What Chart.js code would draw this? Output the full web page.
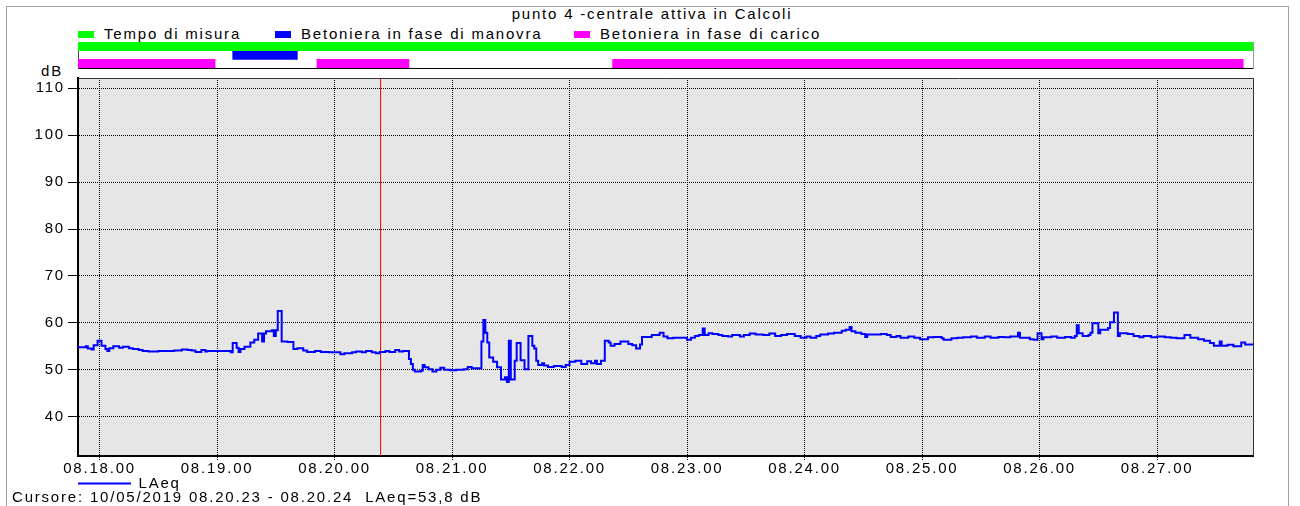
<!DOCTYPE html>
<html lang="it">
<head>
<meta charset="utf-8">
<title>punto 4 -centrale attiva in Calcoli</title>
<script src="https://cdn.jsdelivr.net/npm/chart.js@4.4.1/dist/chart.umd.min.js"></script>
<style>
  html, body { margin: 0; padding: 0; background: #fff; }
  body {
    width: 1300px; height: 506px; position: relative; overflow: hidden;
    font-family: 'Liberation Sans', Arial, sans-serif; font-size: 15px; color: #000;
    letter-spacing: 1.8px;
  }
  .abs { position: absolute; }
  #cornice { left: 6px; top: 6px; width: 1281px; height: 520px; border: 1px solid #a0a0a0; }
  #titolo { left: 0; top: 5px; width: 1304px; text-align: center; line-height: 18px; }
  .voce { top: 25px; line-height: 18px; white-space: nowrap; }
  .voce i { display: inline-block; width: 16px; height: 7px; margin-right: 10px; vertical-align: 1px; }
  #udm { left: 41px; top: 62px; line-height: 18px; }
  #cursore { left: 12px; top: 488px; line-height: 18px; }
  #boxGrafico { left: 0; top: 0; width: 1300px; height: 506px; }
  #boxFasi { left: 0; top: 0; width: 1300px; height: 70px; }
</style>
</head>
<body>
<div id="cornice" class="abs"></div>
<div id="titolo" class="abs">punto 4 -centrale attiva in Calcoli</div>
<div class="abs voce" style="left:78px"><i style="background:#00ff00"></i>Tempo di misura</div>
<div class="abs voce" style="left:275px"><i style="background:#0000ff"></i>Betoniera in fase di manovra</div>
<div class="abs voce" style="left:574px"><i style="background:#ff00ff"></i>Betoniera in fase di carico</div>
<div id="udm" class="abs">dB</div>
<div id="boxGrafico" class="abs"><canvas id="grafico"></canvas></div>
<div id="boxFasi" class="abs"><canvas id="fasi"></canvas></div>
<div id="cursore" class="abs">Cursore: 10/05/2019 08.20.23 - 08.20.24&nbsp;&nbsp;LAeq=53,8 dB</div>

<script>
// tempi in secondi dalle 08.00.00
const inizio = 1069;
const fine = 1669;
const tickTempi = [1080, 1140, 1200, 1260, 1320, 1380, 1440, 1500, 1560, 1620];
const tickDb = [40, 50, 60, 70, 80, 90, 100, 110];
const dbMin = 31.6;
const dbMax = 112.2;
const cursoreSec = 1223.5;

// fasi (barre in alto)
const fasiEtichette = ['Tempo di misura', 'Betoniera in fase di manovra', 'Betoniera in fase di carico'];
const tempoMisura = [[1069, 1669]];
const faseManovra = [[1148, 1181]];
const faseCarico = [[1069, 1139], [1191, 1238], [1342, 1664]];

// LAeq: istante di cambio (s) e livello (dB), a gradini
const laeqTempi = [
  1069, 1073, 1074, 1076, 1077, 1079, 1081, 1083, 1084, 1085, 1087, 1090, 1092, 1095, 1097,
  1100, 1102, 1105, 1110, 1118, 1122, 1125, 1127, 1129, 1132, 1134, 1135, 1147, 1148, 1150,
  1151, 1152, 1154, 1157, 1159, 1161, 1163, 1164, 1165, 1168, 1169, 1170, 1171, 1173, 1176,
  1179, 1181, 1184, 1186, 1190, 1193, 1197, 1203, 1205, 1209, 1211, 1214, 1216, 1219, 1221,
  1223, 1226, 1228, 1231, 1233, 1235, 1238, 1239, 1240, 1241, 1244, 1245, 1246, 1248, 1250,
  1252, 1254, 1256, 1259, 1262, 1266, 1268, 1270, 1275, 1276, 1277, 1278, 1279, 1281, 1283,
  1285, 1287, 1288, 1289, 1290, 1292, 1293, 1295, 1297, 1299, 1301, 1302, 1303, 1304, 1306,
  1307, 1309, 1312, 1316, 1318, 1320, 1323, 1326, 1329, 1331, 1333, 1334, 1336, 1338, 1340,
  1341, 1343, 1346, 1350, 1352, 1354, 1356, 1357, 1362, 1366, 1368, 1370, 1373, 1380, 1382,
  1384, 1386, 1388, 1389, 1391, 1393, 1396, 1398, 1401, 1403, 1407, 1409, 1412, 1415, 1419,
  1422, 1425, 1428, 1431, 1435, 1438, 1441, 1443, 1446, 1448, 1452, 1455, 1459, 1461, 1463,
  1464, 1466, 1469, 1471, 1472, 1479, 1482, 1484, 1487, 1489, 1493, 1496, 1499, 1503, 1506,
  1510, 1511, 1515, 1518, 1521, 1525, 1528, 1532, 1535, 1539, 1542, 1545, 1549, 1550, 1555,
  1557, 1559, 1561, 1562, 1566, 1569, 1573, 1576, 1578, 1579, 1580, 1582, 1585, 1586, 1587,
  1590, 1591, 1595, 1596, 1598, 1600, 1601, 1605, 1608, 1611, 1613, 1617, 1620, 1624, 1627,
  1630, 1634, 1637, 1641, 1644, 1647, 1649, 1652, 1653, 1656, 1659, 1663, 1665, 1669
];
const laeqValori = [
  54.8, 55.0, 54.5, 54.3, 55.2, 56.2, 55.1, 54.4, 54.0, 54.6, 55.0, 54.7, 54.9, 54.6, 54.4,
  54.2, 54.0, 53.9, 54.0, 54.1, 54.3, 54.2, 54.1, 53.8, 54.2, 53.9, 54.0, 53.7, 55.7, 54.7,
  53.8, 54.4, 54.9, 55.8, 56.4, 57.7, 56.0, 57.7, 58.2, 58.4, 57.2, 58.4, 62.5, 56.0, 55.9,
  54.4, 54.6, 54.1, 53.8, 54.0, 53.8, 53.7, 53.3, 53.5, 53.7, 53.9, 53.7, 54.0, 53.7, 53.5,
  53.8, 54.0, 53.8, 54.2, 53.9, 54.0, 52.3, 51.2, 50.0, 49.6, 49.8, 51.0, 50.5, 50.1, 49.6,
  50.0, 50.4, 50.0, 49.9, 50.0, 50.1, 50.6, 50.3, 56.0, 60.6, 57.9, 55.8, 52.6, 51.7, 50.5,
  47.9, 48.4, 47.4, 56.2, 47.9, 51.9, 55.7, 52.0, 50.1, 57.2, 55.1, 54.5, 51.9, 51.0, 51.4,
  50.9, 50.6, 50.8, 50.6, 51.0, 51.7, 51.9, 51.2, 51.8, 51.4, 51.9, 51.2, 51.9, 56.2, 55.8,
  55.1, 55.5, 56.0, 55.5, 55.2, 54.5, 55.4, 57.0, 57.4, 57.9, 57.1, 56.7, 56.8, 56.4, 56.8,
  57.2, 57.4, 58.8, 57.4, 57.8, 57.6, 57.4, 57.2, 57.1, 57.4, 57.1, 57.4, 57.7, 57.5, 57.4,
  57.7, 57.2, 57.4, 57.6, 57.2, 56.8, 57.1, 56.8, 57.2, 57.5, 57.7, 57.9, 58.3, 58.5, 59.1,
  58.2, 57.9, 57.6, 57.0, 57.5, 57.6, 57.4, 57.0, 57.2, 56.8, 57.1, 56.8, 56.5, 56.9, 57.0,
  56.7, 56.4, 56.7, 56.8, 56.9, 57.1, 56.8, 57.1, 56.8, 57.0, 56.9, 57.1, 57.9, 56.8, 56.5,
  56.4, 57.8, 56.5, 56.9, 57.1, 56.8, 57.0, 56.8, 57.2, 59.5, 57.8, 57.2, 57.4, 57.9, 59.9,
  57.8, 58.5, 58.9, 60.1, 62.2, 57.2, 57.8, 57.6, 57.2, 56.9, 57.2, 56.9, 57.1, 56.9, 56.8,
  56.7, 57.4, 56.8, 56.5, 56.2, 55.7, 55.1, 56.0, 55.1, 55.3, 55.0, 55.8, 55.4, 55.3
];

function orario(sec) {
  const h = 8 + Math.floor(sec / 3600);
  const m = Math.floor((sec % 3600) / 60);
  const s = Math.round(sec % 60);
  return [h, m, s].map(n => String(n).padStart(2, '0')).join('.');
}

Chart.defaults.font.family = "'Liberation Sans', Arial, sans-serif";
Chart.defaults.font.size = 15;
Chart.defaults.color = '#000';

// testo un po' spaziato come nell'originale
const spaziatura = {
  id: 'spaziatura',
  beforeLayout(chart) { chart.ctx.letterSpacing = '1.8px'; },
  beforeDraw(chart) { chart.ctx.letterSpacing = '1.8px'; }
};

// sfondo grigio dell'area dati e bordo alto/destro
const areaDati = {
  id: 'areaDati',
  beforeDraw(chart) {
    const { ctx, chartArea: a } = chart;
    ctx.save();
    ctx.fillStyle = '#e6e6e6';
    ctx.fillRect(a.left, a.top, a.width, a.height);
    ctx.restore();
  },
  afterDraw(chart) {
    const { ctx, chartArea: a } = chart;
    ctx.save();
    ctx.strokeStyle = '#333';
    ctx.lineWidth = 1;
    ctx.beginPath();
    ctx.moveTo(a.left, a.top + 0.5);
    ctx.lineTo(a.right + 0.5, a.top + 0.5);
    ctx.lineTo(a.right + 0.5, a.bottom);
    ctx.stroke();
    ctx.restore();
  }
};

new Chart(document.getElementById('grafico'), {
  type: 'line',
  data: {
    datasets: [
      {
        label: 'LAeq',
        data: laeqTempi.map((t, i) => ({ x: t, y: laeqValori[i] })),
        borderColor: '#0000ff',
        backgroundColor: '#0000ff',
        borderWidth: 2,
        pointRadius: 0,
        stepped: true,
        order: 0
      },
      {
        label: 'Cursore',
        data: [{ x: cursoreSec, y: dbMin }, { x: cursoreSec, y: dbMax }],
        borderColor: '#ff0000',
        borderWidth: 1,
        pointRadius: 0,
        order: 1
      }
    ]
  },
  options: {
    animation: false,
    responsive: true,
    maintainAspectRatio: false,
    layout: { padding: { top: 78, left: 8, right: 47, bottom: 5 } },
    plugins: {
      tooltip: { enabled: false },
      legend: {
        position: 'bottom',
        align: 'start',
        fullSize: false,
        labels: {
          boxWidth: 53,
          boxHeight: 2,
          padding: 0,
          generateLabels(chart) {
            return Chart.defaults.plugins.legend.labels.generateLabels(chart)
              .filter(l => l.datasetIndex === 0)
              .map(l => ({ ...l, lineWidth: 0 }));
          }
        }
      }
    },
    scales: {
      x: {
        type: 'linear',
        min: inizio,
        max: fine,
        afterBuildTicks(scale) { scale.ticks = tickTempi.map(v => ({ value: v })); },
        ticks: { callback: v => orario(v), autoSkip: false, maxRotation: 0, padding: 0 },
        grid: { color: '#000', tickLength: 4, tickColor: '#000', tickBorderDash: [1, 1] },
        border: { color: '#000', width: 2, dash: [1, 1] },
        afterFit(scale) { scale.height = 20; scale.paddingLeft = 0; scale.paddingRight = 0; }
      },
      y: {
        min: dbMin,
        max: dbMax,
        afterBuildTicks(scale) { scale.ticks = tickDb.map(v => ({ value: v })); },
        ticks: { padding: 3 },
        grid: { color: '#000', tickLength: 10, tickColor: '#000', tickBorderDash: [] },
        border: { color: '#000', width: 2, dash: [1, 1] },
        afterFit(scale) { scale.width = 70; }
      }
    }
  },
  plugins: [spaziatura, areaDati]
});

// barre delle fasi sopra il grafico
new Chart(document.getElementById('fasi'), {
  type: 'bar',
  data: {
    labels: fasiEtichette,
    datasets: [
      { label: fasiEtichette[0], data: [tempoMisura[0], null, null], backgroundColor: '#00ff00' },
      { label: fasiEtichette[1], data: [null, faseManovra[0], null], backgroundColor: '#0000ff' },
      ...faseCarico.map(seg => ({ label: fasiEtichette[2], data: [null, null, seg], backgroundColor: '#ff00ff' }))
    ]
  },
  options: {
    indexAxis: 'y',
    animation: false,
    responsive: true,
    maintainAspectRatio: false,
    layout: { padding: { top: 42, bottom: 2, left: 78, right: 47 } },
    datasets: { bar: { barPercentage: 1, categoryPercentage: 1, grouped: false, borderWidth: 0 } },
    plugins: { legend: { display: false }, tooltip: { enabled: false } },
    scales: {
      x: {
        type: 'linear', min: inizio, max: fine,
        grid: { display: false }, ticks: { display: false },
        border: { color: '#000', width: 1 },
        afterFit(scale) { scale.height = 0; }
      },
      y: {
        grid: { display: false }, ticks: { display: false },
        border: { color: '#444', width: 1 },
        afterFit(scale) { scale.width = 0; }
      },
      yDestra: {
        type: 'linear', position: 'right',
        grid: { display: false }, ticks: { display: false },
        border: { color: '#999', width: 1 },
        afterFit(scale) { scale.width = 0; }
      }
    }
  }
});
</script>
</body>
</html>
